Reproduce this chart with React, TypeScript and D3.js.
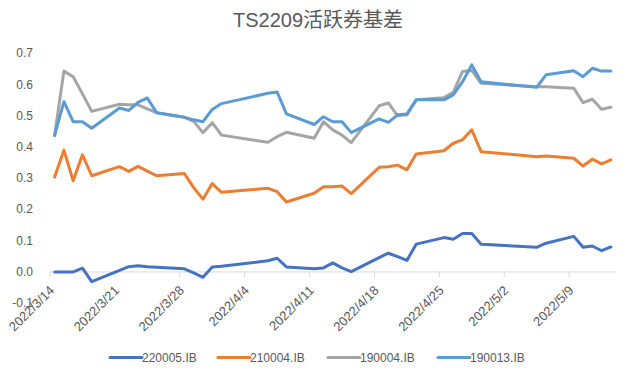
import React from "react";
import * as d3 from "d3";

const title = "TS2209活跃券基差";

const dates = [
  "2022-03-14","2022-03-15","2022-03-16","2022-03-17","2022-03-18",
  "2022-03-21","2022-03-22","2022-03-23","2022-03-24","2022-03-25",
  "2022-03-28","2022-03-29","2022-03-30","2022-03-31","2022-04-01",
  "2022-04-06","2022-04-07","2022-04-08",
  "2022-04-11","2022-04-12","2022-04-13","2022-04-14","2022-04-15",
  "2022-04-18","2022-04-19","2022-04-20","2022-04-21","2022-04-22",
  "2022-04-25","2022-04-26","2022-04-27","2022-04-28","2022-04-29",
  "2022-05-05","2022-05-06",
  "2022-05-09","2022-05-10","2022-05-11","2022-05-12","2022-05-13",
];

const s220005 = [
  0.0, 0.0, 0.0, 0.012, -0.031,
  0.005, 0.017, 0.02, 0.017, 0.015,
  0.01, -0.003, -0.017, 0.016, 0.018,
  0.036, 0.044, 0.016,
  0.01, 0.013, 0.029, 0.013, 0.001,
  0.046, 0.06, 0.049, 0.037, 0.089,
  0.11, 0.105, 0.123, 0.123, 0.089,
  0.079, 0.092,
  0.114, 0.079, 0.083, 0.068, 0.08,
];

const s210004 = [
  0.304, 0.39, 0.292, 0.375, 0.308,
  0.337, 0.322, 0.338, 0.323, 0.308,
  0.315, 0.27, 0.233, 0.283, 0.255,
  0.268, 0.257, 0.224,
  0.252, 0.273, 0.273, 0.275, 0.251,
  0.335, 0.337, 0.342, 0.327, 0.378,
  0.388, 0.412, 0.423, 0.455, 0.385,
  0.369, 0.371,
  0.364, 0.339, 0.361, 0.346, 0.359,
];

const s190004 = [
  0.437, 0.643, 0.625, 0.57, 0.514,
  0.537, 0.535, 0.535, 0.522, 0.51,
  0.495, 0.482, 0.446, 0.478, 0.438,
  0.415, 0.433, 0.447,
  0.428, 0.481, 0.455, 0.438, 0.414,
  0.532, 0.541, 0.5, 0.503, 0.551,
  0.558, 0.575, 0.642, 0.645, 0.604,
  0.593, 0.593,
  0.588, 0.542, 0.553, 0.521, 0.527,
];

const s190013 = [
  0.437, 0.545, 0.481, 0.481, 0.46,
  0.525, 0.517, 0.543, 0.557, 0.51,
  0.495, 0.487, 0.481, 0.52, 0.539,
  0.572, 0.576, 0.506,
  0.472, 0.497, 0.481, 0.481, 0.446,
  0.49, 0.479, 0.503, 0.506, 0.551,
  0.551, 0.567, 0.609, 0.663, 0.609,
  0.591, 0.631,
  0.644, 0.625, 0.652, 0.643, 0.643,
];

const seriesNames = ["220005.IB", "210004.IB", "190004.IB", "190013.IB"];
const seriesValues = [s220005, s210004, s190004, s190013];
const seriesColors = ["#4472C4", "#ED7D31", "#A5A5A5", "#5B9BD5"];

const yTicks = [-0.1, 0.0, 0.1, 0.2, 0.3, 0.4, 0.5, 0.6, 0.7];
const xTickDates = [
  "2022-03-14","2022-03-21","2022-03-28","2022-04-04","2022-04-11",
  "2022-04-18","2022-04-25","2022-05-02","2022-05-09",
];

const W = 640;
const H = 379;
const FONT = "'Liberation Sans', Arial, 'Noto Sans CJK SC', sans-serif";
const TEXT = "#595959";

const parse = (s: string) => {
  const [y, m, d] = s.split("-").map(Number);
  return new Date(Date.UTC(y, m - 1, d));
};

export default function App() {
  const x = d3
    .scaleUtc()
    .domain([parse("2022-03-14"), parse("2022-05-14")])
    .range([50, 615.5]);
  const y = d3.scaleLinear().domain([-0.1, 0.7]).range([303.2, 53.3]);

  const halfDay = 12 * 3600 * 1000;
  const pts = dates.map((d) => new Date(parse(d).getTime() + halfDay));

  const line = d3
    .line<number>()
    .x((_, i) => x(pts[i]))
    .y((v) => y(v));

  const legendX = [110, 218, 328, 438];
  const legendY = 357.5;

  return (
    <svg
      width={W}
      height={H}
      style={{ position: "absolute", left: 0, top: 0, background: "#fff" }}
      fontFamily={FONT}
    >
      <rect x={0} y={0} width={W} height={H} fill="#fff" />
      <text
        x={318}
        y={20}
        textAnchor="middle"
        dominantBaseline="central"
        fontSize={20}
        fill={TEXT}
      >
        {title}
      </text>

      {yTicks.map((t) => (
        <text
          key={t}
          x={33}
          y={y(t)}
          textAnchor="end"
          dominantBaseline="central"
          fontSize={12}
          fill={TEXT}
        >
          {t.toFixed(1)}
        </text>
      ))}

      <line x1={50} x2={615.5} y1={y(0)} y2={y(0)} stroke="#D9D9D9" strokeWidth={1} />
      {xTickDates.map((d) => {
        const tx = x(parse(d));
        return (
          <line key={d} x1={tx} x2={tx} y1={y(0)} y2={y(0) + 5} stroke="#D9D9D9" strokeWidth={1} />
        );
      })}
      {xTickDates.map((d) => {
        const tx = x(parse(d)) + 2;
        const ty = y(0) + 16;
        const dt = parse(d);
        const label = `${dt.getUTCFullYear()}/${dt.getUTCMonth() + 1}/${dt.getUTCDate()}`;
        return (
          <text
            key={"l" + d}
            transform={`translate(${tx},${ty}) rotate(-45)`}
            textAnchor="end"
            dominantBaseline="central"
            fontSize={13}
            fill={TEXT}
          >
            {label}
          </text>
        );
      })}

      {seriesValues.map((vals, i) => (
        <path
          key={seriesNames[i]}
          d={line(vals) || ""}
          fill="none"
          stroke={seriesColors[i]}
          strokeWidth={3}
          strokeLinejoin="round"
          strokeLinecap="round"
        />
      ))}

      {seriesNames.map((n, i) => (
        <g key={"lg" + n}>
          <line
            x1={legendX[i]}
            x2={legendX[i] + 32}
            y1={legendY}
            y2={legendY}
            stroke={seriesColors[i]}
            strokeWidth={3}
            strokeLinecap="round"
          />
          <text
            x={legendX[i] + 32}
            y={legendY}
            dominantBaseline="central"
            fontSize={12}
            fill={TEXT}
          >
            {n}
          </text>
        </g>
      ))}
    </svg>
  );
}
